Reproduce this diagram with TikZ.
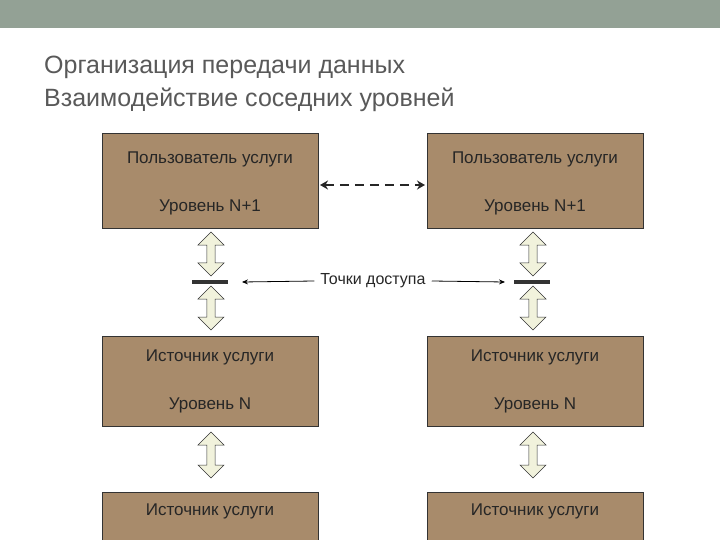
\documentclass[tikz,border=0pt]{standalone}
\usepackage{fontspec}
\setmainfont{Liberation Sans}
\usetikzlibrary{shapes.arrows,arrows.meta}
\definecolor{topbar}{HTML}{93A195}
\definecolor{boxc}{HTML}{A88B6B}
\definecolor{ivory}{HTML}{F1F2DC}
\definecolor{ttl}{HTML}{595959}
\begin{document}
\begin{tikzpicture}[x=1pt,y=-1pt,
  box/.style={draw=black!80,line width=0.6pt,fill=boxc},
  lbl/.style={font=\fontsize{17}{20}\selectfont,text=black!85},
  dbl/.style={draw=black!80,line width=0.5pt,fill=ivory,double arrow,shape border rotate=90,
     minimum width=26,double arrow head extend=8,inner sep=3.5,minimum height=#1},
  apbar/.style={line width=4pt,black!80}]
\useasboundingbox (0,0) rectangle (720,540);
\fill[topbar] (0,0) rectangle (720,28);
\node[anchor=west,text=ttl,font=\fontsize{25}{33}\selectfont,align=left,inner sep=0] (title) at (44,84)
  {Организация передачи данных\\Взаимодействие соседних уровней};
\foreach \n/\x in {l/102,r/427}{
  \draw[box] (\x,133) rectangle ++(216,95);
  \node[lbl] (\n u1) at (\x+108,159) {Пользователь услуги};
  \node[lbl] (\n u2) at (\x+108,207) {Уровень N+1};
  \draw[box] (\x,336) rectangle ++(216,90);
  \node[lbl] (\n s1) at (\x+108,357) {Источник услуги};
  \node[lbl] (\n s2) at (\x+108,405) {Уровень N};
  \draw[box] (\x,492) rectangle ++(216,60);
  \node[lbl] (\n b1) at (\x+108,511) {Источник услуги};
}
\coordinate (dl) at (320,185); \coordinate (dr) at (425,185);
\draw[line width=2.5pt,dash pattern=on 9pt off 6pt,black!85,{Stealth[length=8pt,width=9pt]}-{Stealth[length=8pt,width=9pt]}] (dl) -- (dr);
\foreach \n/\x in {l/211,r/533}{
  \node[dbl=44] (\n a1) at (\x,254) {};
  \node[dbl=44] (\n a2) at (\x,308) {};
  \node[dbl=46] (\n a3) at (\x,455) {};
  \coordinate (\n p1) at (\x-19,282); \coordinate (\n p2) at (\x+17,282);
  \draw[apbar] (\n p1) -- (\n p2);
}
\node[lbl,font=\fontsize{16}{18}\selectfont,inner sep=6] (tp) at (373,281) {Точки доступа};
\coordinate (tl) at (242,282); \coordinate (tr) at (505,282);
\draw[-{Stealth[length=6pt,width=5pt]},line width=0.8pt] (tp.west) -- (tl);
\draw[-{Stealth[length=6pt,width=5pt]},line width=0.8pt] (tp.east) -- (tr);
\end{tikzpicture}
\end{document}
